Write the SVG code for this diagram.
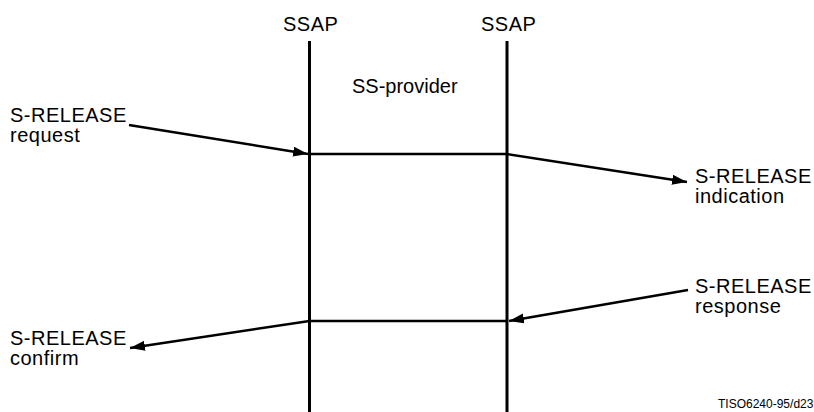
<svg xmlns="http://www.w3.org/2000/svg" width="814" height="412" viewBox="0 0 814 412">
<style>
text{font-family:"Liberation Sans",Arial,sans-serif;font-size:20px;letter-spacing:0.5px;fill:#000}
.life{stroke:#000;stroke-width:3;fill:none}
.conn{stroke:#000;stroke-width:2.5;fill:none}
.arr{stroke:#000;stroke-width:2.5;fill:none;marker-end:url(#ah)}
.small{font-size:12px;letter-spacing:0}
</style>
<defs>
<marker id="ah" markerUnits="userSpaceOnUse" markerWidth="16" markerHeight="11" refX="15" refY="5" orient="auto">
<path d="M0,0 L15,5 L0,10 z" fill="#000"/>
</marker>
</defs>
<rect width="814" height="412" fill="#fff"/>
<g id="ssap-left">
<text x="283" y="31">SSAP</text>
<line class="life" x1="309.5" y1="41" x2="309.5" y2="412"/>
</g>
<g id="ssap-right">
<text x="481" y="31">SSAP</text>
<line class="life" x1="507" y1="41" x2="507" y2="412"/>
</g>
<g id="ss-provider">
<text x="352" y="93" style="letter-spacing:0">SS-provider</text>
</g>
<g id="request">
<text x="10" y="122">S-RELEASE</text>
<text x="10" y="142">request</text>
</g>
<g id="indication">
<text x="695" y="183">S-RELEASE</text>
<text x="695" y="203">indication</text>
</g>
<g id="response">
<text x="695" y="293">S-RELEASE</text>
<text x="695" y="313">response</text>
</g>
<g id="confirm">
<text x="10" y="345">S-RELEASE</text>
<text x="10" y="365">confirm</text>
</g>
<g id="connectors">
<line class="arr" x1="129" y1="125" x2="308" y2="154"/>
<line class="conn" x1="309.5" y1="154" x2="507" y2="154"/>
<line class="arr" x1="507" y1="154" x2="687" y2="182"/>
<line class="arr" x1="688" y1="290" x2="509" y2="321"/>
<line class="conn" x1="309.5" y1="321" x2="507" y2="321"/>
<line class="arr" x1="309.5" y1="321" x2="130" y2="348"/>
</g>
<text class="small" x="718" y="408">TISO6240-95/d23</text>
</svg>
